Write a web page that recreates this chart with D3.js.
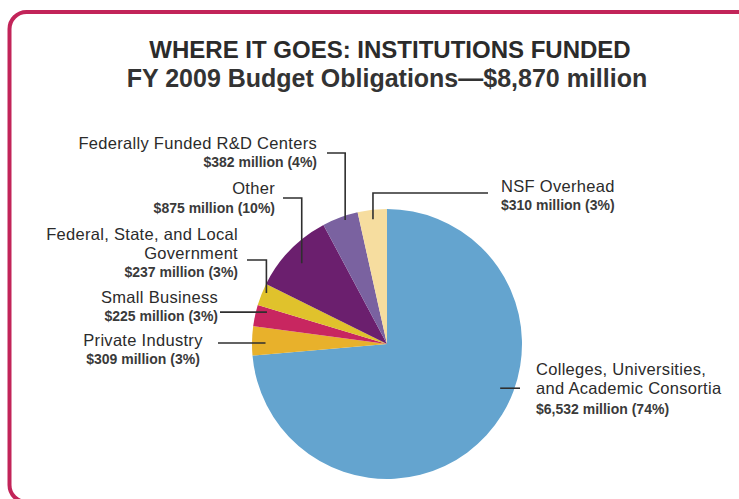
<!DOCTYPE html>
<html>
<head>
<meta charset="utf-8">
<script src="https://cdn.jsdelivr.net/npm/d3@7"></script>
<style>
  html, body { margin: 0; padding: 0; background: #fff; }
  svg { display: block; }
  text { font-family: "Liberation Sans", Arial, sans-serif; fill: #2b2b2b; }
</style>
</head>
<body>
<svg id="chart" width="739" height="499"></svg>
<script>
// FY 2009 obligations by institution type, in millions of dollars (clockwise from 12 o'clock)
const categories = [
  "Colleges, Universities, and Academic Consortia",
  "Private Industry",
  "Small Business",
  "Federal, State, and Local Government",
  "Other",
  "Federally Funded R&D Centers",
  "NSF Overhead"
];
const amounts = [6532, 309, 225, 237, 875, 382, 310];
const percents = [74, 3, 3, 3, 10, 4, 3];
const colors = ["#64a4cf", "#e8b12b", "#c82660", "#e0c22c", "#6b1f6e", "#7a62a0", "#f6dd9f"];

// Label text lines (name lines, then the value line)
const nameLines = [
  ["Colleges, Universities,", "and Academic Consortia"],
  ["Private Industry"],
  ["Small Business"],
  ["Federal, State, and Local", "Government"],
  ["Other"],
  ["Federally Funded R&D Centers"],
  ["NSF Overhead"]
];
const titleLines = ["WHERE IT GOES: INSTITUTIONS FUNDED", "FY 2009 Budget Obligations\u2014$8,870 million"];

const svg = d3.select("#chart");

// Rounded frame (runs off the right and bottom edges)
svg.append("rect")
  .attr("x", 9.5).attr("y", 12)
  .attr("width", 745).attr("height", 490)
  .attr("rx", 17).attr("ry", 17)
  .attr("fill", "#fff")
  .attr("stroke", "#c22459")
  .attr("stroke-width", 4);

// Title
svg.append("text")
  .attr("x", 390).attr("y", 58)
  .attr("text-anchor", "middle")
  .style("font-size", "24px").style("font-weight", 700)
  .text(titleLines[0]);
svg.append("text")
  .attr("x", 387).attr("y", 87)
  .attr("text-anchor", "middle")
  .style("font-size", "25px").style("font-weight", 700)
  .style("fill", "#333")
  .text(titleLines[1]);

// Pie
const cx = 387, cy = 344, R = 135;
const g = svg.append("g").attr("transform", `translate(${cx},${cy})`);
const data = categories.map((c, i) => ({ name: c, value: amounts[i], pct: percents[i], color: colors[i], i }));
const pie = d3.pie().value(d => d.value).sort(null).startAngle(0).endAngle(2 * Math.PI);
const arcs = pie(data);
const arc = d3.arc().innerRadius(0).outerRadius(R);

g.selectAll("path.slice")
  .data(arcs)
  .join("path")
  .attr("class", "slice")
  .attr("d", arc)
  .attr("fill", d => d.data.color);

// Label layout: where the leader touches the slice (fraction along the slice, fraction of radius),
// the leader style, and the text block position.
const layout = [
  { t: 0.42, k: 0.90, kind: "h", lineTo: 520, tx: 536, ty: 375, anchor: "start", gaps: [19, 19.5] },
  { t: 0.43, k: 0.90, kind: "h", lineTo: 218, tx: 143, ty: 346, anchor: "middle", gaps: [17.5] },
  { t: 0.79, k: 0.92, kind: "h", lineTo: 220, tx: 218, ty: 303, anchor: "end", gaps: [18] },
  { t: 0.64, k: 0.97, kind: "v", elbowY: 260, lineTo: 247, tx: 238, ty: 240, anchor: "end", gaps: [19, 18] },
  { t: 0.48, k: 0.87, kind: "v", elbowY: 198, lineTo: 283, tx: 275, ty: 194, anchor: "end", gaps: [19] },
  { t: 0.61, k: 0.97, kind: "v", elbowY: 153, lineTo: 327, tx: 317, ty: 149, anchor: "end", gaps: [18] },
  { t: 0.49, k: 0.93, kind: "v", elbowY: 193, lineTo: 488, tx: 501, ty: 192, anchor: "start", gaps: [18] }
];

const fmt = d3.format(",");
const leaders = svg.append("g");
const labels = svg.append("g");

arcs.forEach((a, i) => {
  const L = layout[i];
  const ang = a.startAngle + L.t * (a.endAngle - a.startAngle);
  const px = cx + L.k * R * Math.sin(ang);
  const py = cy - L.k * R * Math.cos(ang);
  const pts = L.kind === "h"
    ? [[px, py], [L.lineTo, py]]
    : [[px, py], [px, L.elbowY], [L.lineTo, L.elbowY]];
  leaders.append("path")
    .attr("d", d3.line()(pts))
    .attr("fill", "none")
    .attr("stroke", "#2f2f2f")
    .attr("stroke-width", 1.6);

  const lines = nameLines[i];
  let y = L.ty;
  lines.forEach((s, j) => {
    if (j > 0) y += L.gaps[j - 1];
    labels.append("text")
      .attr("x", L.tx).attr("y", y)
      .attr("text-anchor", L.anchor)
      .style("font-size", "16.5px")
      .style("letter-spacing", "0.3px")
      .text(s);
  });
  y += L.gaps[lines.length - 1];
  labels.append("text")
    .attr("x", L.tx).attr("y", y)
    .attr("text-anchor", L.anchor)
    .style("font-size", "14px").style("font-weight", 700)
    .style("fill", "#3a3a3a")
    .text(`$${fmt(a.data.value)} million (${a.data.pct}%)`);
});
</script>
</body>
</html>
